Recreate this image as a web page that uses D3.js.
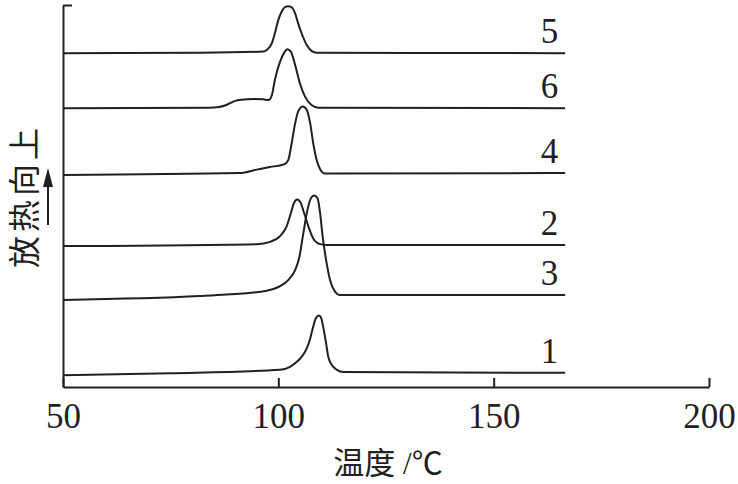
<!DOCTYPE html>
<html>
<head>
<meta charset="utf-8">
<script src="https://cdn.jsdelivr.net/npm/d3@7"></script>
<style>
  body { margin: 0; background: #fff; }
  svg { display: block; }
</style>
</head>
<body>
<div id="chart"></div>
<script>
// DSC curves, temperature (°C) vs heat flow (arbitrary units, exotherm up)
var curve5 = [[50,87.4],[81.8,87.5],[96.5,87.8],[97.3,88.2],[98.5,90.0],[99.2,92.6],[100.0,96.1],[100.8,98.3],[101.5,99.4],[102.3,99.7],[103.1,99.4],[103.9,97.8],[104.6,95.2],[105.4,92.6],[106.6,89.5],[107.7,88.0],[108.9,87.5],[166.6,87.4]];
var curve6 = [[50,73.0],[84.0,73.1],[86.2,73.3],[87.6,73.7],[88.8,74.3],[90.0,74.9],[91.4,75.2],[94.2,75.4],[96.5,75.3],[97.7,75.1],[98.5,76.4],[99.2,80.4],[100.4,85.2],[101.3,87.4],[102.1,88.4],[102.9,87.8],[103.9,84.3],[105.0,79.5],[106.2,76.0],[107.7,73.8],[109.3,73.1],[166.6,73.0]];
var curve4 = [[50,55.5],[91.1,56.0],[95.0,56.9],[98.0,57.6],[100.8,58.1],[101.5,58.4],[102.3,59.4],[103.1,63.8],[103.9,69.0],[104.6,72.1],[105.7,73.4],[106.6,72.5],[107.4,69.0],[108.1,63.8],[108.9,59.4],[109.8,56.8],[110.8,55.9],[166.6,56.0]];
var curve2 = [[50,36.9],[95.0,37.4],[98.1,38.0],[100.4,39.5],[101.9,42.0],[102.9,45.5],[103.6,48.1],[104.4,49.1],[105.2,48.2],[106.0,45.5],[107.0,42.0],[108.1,38.9],[109.7,37.4],[111.2,37.2],[166.6,37.2]];
var curve3 = [[50,22.8],[81.8,23.8],[88.0,24.2],[97.3,25.2],[100.4,26.4],[102.3,28.0],[103.9,30.6],[104.9,34.1],[105.8,40.2],[106.6,45.5],[107.4,49.0],[108.3,50.1],[109.1,49.4],[109.7,45.5],[110.3,39.3],[111.1,33.2],[112.0,28.0],[113.2,24.9],[114.2,24.1],[166.6,24.1]];
var curve1 = [[50,3.1],[75.0,3.6],[100.4,4.5],[102.7,5.3],[104.3,6.6],[105.4,7.9],[106.6,10.1],[107.4,12.7],[108.1,15.8],[108.7,18.0],[109.4,18.7],[109.9,18.2],[110.4,15.8],[111.1,11.4],[111.6,7.9],[112.4,5.8],[113.6,4.5],[115.1,3.9],[166.6,3.7]];

var curveNames = ["5", "6", "4", "2", "3", "1"];
var curves = [curve5, curve6, curve4, curve2, curve3, curve1];
var xTicks = [50, 100, 150, 200];

var w = 738, h = 484;
var ink = "#231f20";

var svg = d3.select("#chart").append("svg")
    .attr("width", w)
    .attr("height", h);

var x = d3.scaleLinear().domain([50, 200]).range([63, 709]);
var y = d3.scaleLinear().domain([0, 100]).range([387, 5]);

// x axis, ticks pointing up
var xAxis = svg.append("g")
    .attr("transform", "translate(0,387)")
    .call(d3.axisBottom(x).tickValues(xTicks).tickSize(-9).tickSizeOuter(0));
xAxis.select(".domain").attr("stroke", ink).attr("stroke-width", 2);
xAxis.selectAll(".tick line").attr("stroke", ink).attr("stroke-width", 2);
xAxis.selectAll(".tick text")
    .attr("y", 41)
    .attr("dy", 0)
    .attr("fill", ink)
    .style("font-family", "'Liberation Serif', 'Times New Roman', serif")
    .style("font-size", "35px");

// y axis, only the top tick, pointing right
var yAxis = svg.append("g")
    .attr("transform", "translate(63,0)")
    .call(d3.axisLeft(y).tickValues([100]).tickSize(-9).tickSizeOuter(0).tickFormat(""));
yAxis.select(".domain").attr("stroke", ink).attr("stroke-width", 2);
yAxis.selectAll(".tick line").attr("stroke", ink).attr("stroke-width", 2);

var line = d3.line()
    .x(function(d) { return x(d[0]); })
    .y(function(d) { return y(d[1]); })
    .curve(d3.curveMonotoneX);

svg.selectAll("path.curve")
    .data(curves)
    .enter().append("path")
    .attr("class", "curve")
    .attr("d", line)
    .attr("fill", "none")
    .attr("stroke", ink)
    .attr("stroke-width", 2);

// curve numbers above the right end of each baseline
svg.selectAll("text.num")
    .data(curves)
    .enter().append("text")
    .attr("class", "num")
    .attr("x", x(165))
    .attr("y", function(d) { return y(d[d.length - 1][1]) - 10; })
    .attr("text-anchor", "end")
    .attr("fill", ink)
    .style("font-family", "'Liberation Serif', 'Times New Roman', serif")
    .style("font-size", "35px")
    .text(function(d, i) { return curveNames[i]; });

// axis titles
svg.append("text")
    .attr("x", 388)
    .attr("y", 474)
    .attr("text-anchor", "middle")
    .attr("fill", ink)
    .style("font-family", "'Liberation Serif', 'Noto Sans CJK SC', serif")
    .style("font-size", "31px")
    .text("温度 /℃");

svg.append("text")
    .attr("transform", "translate(36,196) rotate(-90)")
    .attr("text-anchor", "middle")
    .attr("fill", ink)
    .style("font-family", "'Noto Sans CJK SC', sans-serif")
    .style("font-size", "32px")
    .style("letter-spacing", "4px")
    .text("放热向上");

// upward arrow next to the y title
svg.append("line")
    .attr("x1", 48).attr("x2", 48)
    .attr("y1", 225).attr("y2", 184)
    .attr("stroke", ink)
    .attr("stroke-width", 2);
svg.append("path")
    .attr("d", "M48,168 L53,187 L43,187 Z")
    .attr("fill", ink);
</script>
</body>
</html>
